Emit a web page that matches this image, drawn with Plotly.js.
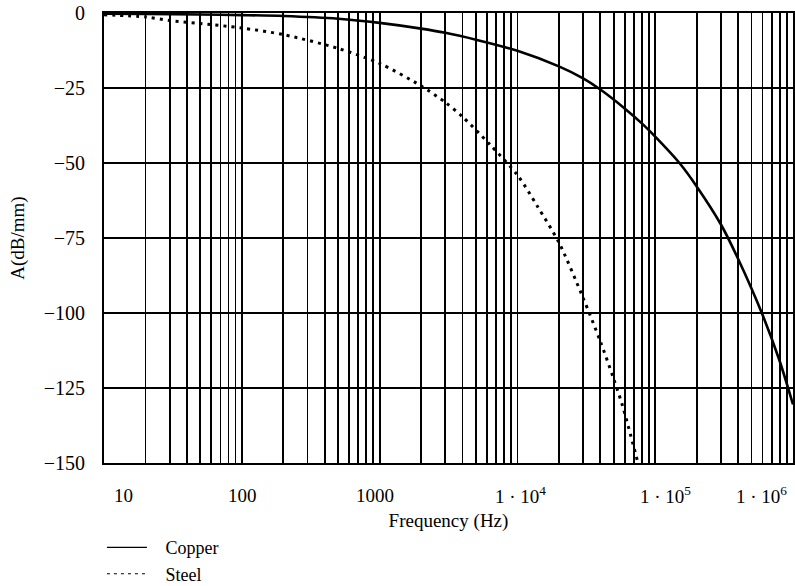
<!DOCTYPE html>
<html>
<head>
<meta charset="utf-8">
<script src="https://cdn.plot.ly/plotly-3.0.1.min.js"></script>
<style>html,body{margin:0;padding:0;background:#fff;}#chart{width:795px;height:586px;}</style>
</head>
<body>
<div id="chart"></div>
<script>
// ---- data ----
const copperFreq = [10, 20, 50, 100, 200, 500, 1000, 2000, 3000, 5000, 1e4, 2e4, 3e4, 4e4, 6e4, 8e4, 1e5, 1.5e5, 2e5, 3e5, 4e5, 6e5, 8e5, 1e6];
const copperAtt  = [-0.2, -0.3, -0.5, -0.7, -1.0, -1.9, -3.3, -5.2, -6.6, -8.9, -12.6, -17.8, -21.8, -25.5, -31.8, -36.8, -41.2, -50, -57.8, -70.5, -82, -100.5, -116, -130.5];
const steelFreq  = [10, 20, 30, 50, 100, 200, 500, 1000, 2000, 3000, 4000, 6300, 1e4, 1.4e4, 2e4, 3e4, 4e4, 5e4, 5.8e4, 7.5e4];
const steelAtt   = [-0.6, -1.3, -2.5, -3.5, -5.0, -7.2, -11.8, -16.8, -24.3, -29.8, -34.6, -43.8, -54, -64.5, -76.5, -95, -109.5, -122, -131, -150];
const yTickVals  = [0, -25, -50, -75, -100, -125, -150];
const xLabelVals = [10, 100, 1000, 1e4, 1e5, 1e6];
const xLabelText = ["10", "100", "1000", "1 \u00b7 10<sup>4</sup>", "1 \u00b7 10<sup>5</sup>", "1 \u00b7 10<sup>6</sup>"];
const seriesNames = ["Copper", "Steel"];

// ---- layout helpers ----
const FONT = "Liberation Serif, Times New Roman, serif";
const gridVals = [];
for (let d = 1; d <= 5; d++) for (let m = 1; m <= 9; m++) gridVals.push(m * Math.pow(10, d));
gridVals.push(1e6);
const labelNudge = [19, 1, -5, 3, 10, -32];
const pad = "\u00a0\u00a0\u00a0";

const traces = [
  {x: copperFreq, y: copperAtt, name: seriesNames[0], type: "scatter", mode: "lines", showlegend: false,
   line: {color: "#000", width: 2.6, shape: "spline", smoothing: 0.8}},
  {x: steelFreq, y: steelAtt, name: seriesNames[1], type: "scatter", mode: "lines", showlegend: false,
   line: {color: "#000", width: 3, dash: "3px,5px", shape: "spline", smoothing: 0.8}},
  // legend samples (thin strokes as in the reference key)
  {x: [null], y: [null], name: pad + seriesNames[0], type: "scatter", mode: "lines",
   line: {color: "#000", width: 1.2}},
  {x: [null], y: [null], name: pad + seriesNames[1], type: "scatter", mode: "lines",
   line: {color: "#000", width: 1.2, dash: "3px,4px"}}
];

const annotations = xLabelVals.map((v, i) => ({
  x: Math.log10(v), xref: "x", y: 0, yref: "paper", yanchor: "middle", xanchor: "center",
  yshift: -32, xshift: labelNudge[i], text: xLabelText[i], showarrow: false,
  font: {family: FONT, size: 19, color: "#000"}
}));

const layout = {
  width: 795, height: 586,
  margin: {l: 104, r: 2, t: 13, b: 123, autoexpand: false},
  paper_bgcolor: "#fff", plot_bgcolor: "#fff",
  font: {family: FONT, size: 19, color: "#000"},
  showlegend: true,
  legend: {x: -0.003, xanchor: "left", y: -0.147, yanchor: "top", bgcolor: "rgba(0,0,0,0)",
           itemwidth: 40, font: {family: FONT, size: 18, color: "#000"}, tracegroupgap: 0},
  xaxis: {
    type: "log", range: [1, 6], tickmode: "array", tickvals: gridVals,
    showticklabels: false, ticks: "",
    showgrid: true, gridcolor: "#000", gridwidth: 1.8,
    showline: true, linecolor: "#000", linewidth: 2, mirror: true, zeroline: false,
    title: {text: "Frequency (Hz)", font: {family: FONT, size: 19, color: "#000"}, standoff: 50}
  },
  yaxis: {
    range: [-150, 0], tickmode: "array", tickvals: yTickVals,
    ticks: "", ticklabelstandoff: 13,
    tickfont: {family: FONT, size: 20, color: "#000"},
    showgrid: true, gridcolor: "#000", gridwidth: 1.8,
    showline: true, linecolor: "#000", linewidth: 2, mirror: true, zeroline: false,
    title: {text: "A(dB/mm)", font: {family: FONT, size: 19, color: "#000"}, standoff: 14}
  },
  annotations: annotations
};

Plotly.newPlot("chart", traces, layout, {displayModeBar: false, staticPlot: true});
</script>
</body>
</html>
